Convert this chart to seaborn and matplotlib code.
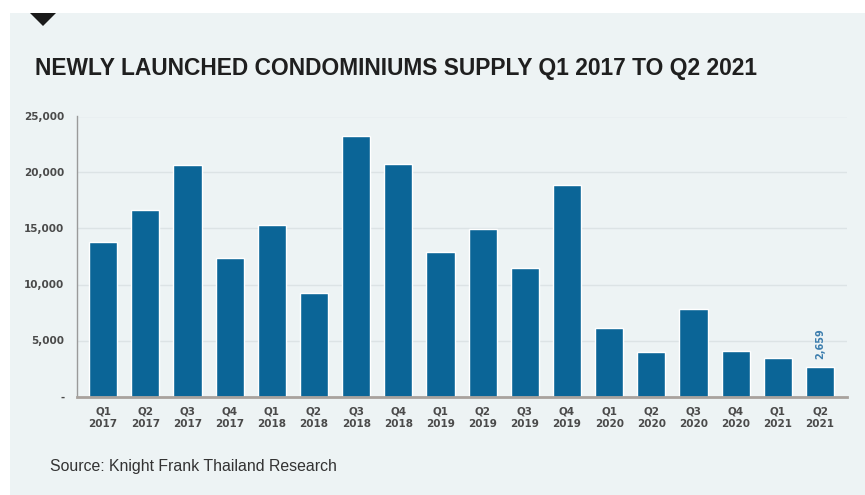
import matplotlib
matplotlib.use("Agg")
import matplotlib.pyplot as plt
import matplotlib.patches as mpatches
import seaborn as sns
import pandas as pd

# Quarterly newly launched condominium units
quarters = ["Q1", "Q2", "Q3", "Q4", "Q1", "Q2", "Q3", "Q4", "Q1",
            "Q2", "Q3", "Q4", "Q1", "Q2", "Q3", "Q4", "Q1", "Q2"]
years = ["2017", "2017", "2017", "2017", "2018", "2018", "2018", "2018", "2019",
         "2019", "2019", "2019", "2020", "2020", "2020", "2020", "2021", "2021"]
units = [13800, 16650, 20700, 12400, 15350, 9270, 23300, 20750, 12900,
         14950, 11450, 18850, 6150, 3950, 7800, 4060, 3470, 2659]
y_ticks = [0, 5000, 10000, 15000, 20000, 25000]
y_tick_labels = ["-", "5,000", "10,000", "15,000", "20,000", "25,000"]

labels = [f"{q}\n{y}" for q, y in zip(quarters, years)]
df = pd.DataFrame({"period": labels, "units": units})

sns.set_theme(style="white")
plt.rcParams["font.family"] = ["DejaVu Sans"]

W, H = 865, 495
fig = plt.figure(figsize=(W / 100, H / 100), dpi=100)
fig.patch.set_facecolor("white")

panel_color = "#edf3f4"
# background panel and marker triangle
fig.add_artist(mpatches.Rectangle((10 / W, 0), (W - 10) / W, (H - 13) / H,
                                  transform=fig.transFigure, facecolor=panel_color,
                                  edgecolor="none", zorder=0))
fig.add_artist(mpatches.Polygon([(30 / W, 1 - 13 / H), (56 / W, 1 - 13 / H),
                                 (43 / W, 1 - 26 / H)], closed=True,
                                transform=fig.transFigure, facecolor="#1a1a1a",
                                edgecolor="none", zorder=1))

left, right, top, bottom = 77, 847, 116.5, 396.5
ax = fig.add_axes([left / W, 1 - bottom / H, (right - left) / W, (bottom - top) / H])
ax.set_facecolor(panel_color)

bar_color = "#0b6597"
sns.barplot(data=df, x="period", y="units", color=bar_color, width=0.665,
            saturation=1, ax=ax, zorder=2)

ax.set_xlim(-0.62, len(units) - 1 + 0.64)
ax.set_ylim(0, 25000)
ax.set_yticks(y_ticks)
ax.set_yticklabels(y_tick_labels)
ax.yaxis.grid(True, color="#dce3e5", linewidth=1.0, zorder=0)
ax.set_axisbelow(True)
ax.set_xlabel("")
ax.set_ylabel("")

for s in ["top", "right"]:
    ax.spines[s].set_visible(False)
ax.spines["left"].set_color("#9a9a9a")
ax.spines["left"].set_linewidth(1.0)
ax.spines["bottom"].set_color("#a8a29d")
ax.spines["bottom"].set_linewidth(2.0)

ax.tick_params(axis="y", length=0, pad=9, labelsize=7.5, labelcolor="#4a4a4a")
ax.tick_params(axis="x", length=0, pad=7, labelsize=7.5, labelcolor="#4a4a4a")
for t in ax.get_yticklabels() + ax.get_xticklabels():
    t.set_fontweight("bold")
for t in ax.get_xticklabels():
    t.set_linespacing(1.3)

# value label on the latest quarter
last = len(units) - 1
ax.text(last, units[last] + 650, f"{units[last]:,}", rotation=90, ha="center",
        va="bottom", fontsize=7, color="#3d7eae", fontweight="bold")

fig.text(35 / W, 1 - 68 / H, "NEWLY LAUNCHED CONDOMINIUMS SUPPLY Q1 2017 TO Q2 2021",
         family="Liberation Sans", fontweight="bold", fontsize=16.4, color="#1f1f1f",
         ha="left", va="center")
fig.text(50 / W, 1 - 466 / H, "Source: Knight Frank Thailand Research",
         family="Liberation Sans", fontsize=11.4, color="#333333", ha="left", va="center")

fig.savefig("out.png", dpi=100, facecolor=fig.get_facecolor())
